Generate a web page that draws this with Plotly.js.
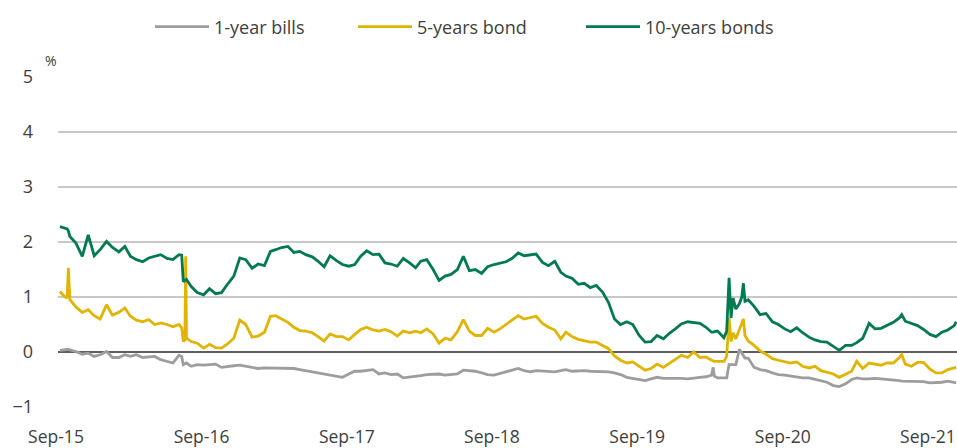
<!DOCTYPE html>
<html>
<head>
<meta charset="utf-8">
<script src="https://cdn.plot.ly/plotly-3.0.1.min.js"></script>
<style>html,body{margin:0;padding:0;background:#fff;}#chart{width:957px;height:448px;}</style>
</head>
<body>
<div id="chart"></div>
<script>
const dates = [
"2015-09-06","2015-09-16","2015-09-24","2015-09-27","2015-10-01","2015-10-16","2015-11-01","2015-11-16","2015-12-01","2015-12-16",
"2016-01-01","2016-01-16","2016-02-01","2016-02-16","2016-03-01","2016-03-16","2016-04-01","2016-04-16","2016-05-01","2016-05-16",
"2016-06-01","2016-06-16","2016-07-01","2016-07-08","2016-07-12","2016-07-16","2016-07-18","2016-07-20","2016-08-01","2016-08-16",
"2016-09-01","2016-09-16","2016-10-01","2016-10-16","2016-11-01","2016-11-16","2016-12-01","2016-12-16","2017-01-01","2017-01-16",
"2017-02-01","2017-02-16","2017-03-01","2017-03-16","2017-04-01","2017-04-16","2017-05-01","2017-05-16","2017-06-01","2017-06-16",
"2017-07-01","2017-07-16","2017-08-01","2017-08-16","2017-09-01","2017-09-16","2017-10-01","2017-10-16","2017-11-01","2017-11-16",
"2017-12-01","2017-12-16","2018-01-01","2018-01-16","2018-02-01","2018-02-16","2018-03-01","2018-03-16","2018-04-01","2018-04-16",
"2018-05-01","2018-05-16","2018-06-01","2018-06-16","2018-07-01","2018-07-16","2018-08-01","2018-08-16","2018-09-01","2018-09-16",
"2018-10-01","2018-10-16","2018-11-01","2018-11-16","2018-12-01","2018-12-16","2019-01-01","2019-01-16","2019-02-01","2019-02-16",
"2019-03-01","2019-03-16","2019-04-01","2019-04-16","2019-05-01","2019-05-16","2019-06-01","2019-06-16","2019-07-01","2019-07-16",
"2019-08-01","2019-08-16","2019-09-01","2019-09-16","2019-10-01","2019-10-16","2019-11-01","2019-11-16","2019-12-01","2019-12-16",
"2020-01-01","2020-01-16","2020-02-01","2020-02-16","2020-03-01","2020-03-05","2020-03-08","2020-03-16","2020-04-01","2020-04-08",
"2020-04-14","2020-04-19","2020-04-24","2020-05-01","2020-05-10","2020-05-16","2020-05-20","2020-05-24","2020-06-01","2020-06-16",
"2020-07-01","2020-07-16","2020-08-01","2020-08-16","2020-09-01","2020-09-16","2020-10-01","2020-10-16","2020-11-01","2020-11-16",
"2020-12-01","2020-12-16","2021-01-01","2021-01-16","2021-02-01","2021-02-16","2021-03-01","2021-03-16","2021-04-01","2021-04-16",
"2021-05-01","2021-05-16","2021-06-01","2021-06-16","2021-06-22","2021-07-01","2021-07-16","2021-08-01","2021-08-16","2021-09-01",
"2021-09-16","2021-10-01","2021-10-16","2021-11-01","2021-11-06"
];

const bonds10y = [
2.28,2.26,2.24,2.20,2.10,1.98,1.74,2.13,1.75,1.86,
2.01,1.90,1.82,1.92,1.74,1.68,1.64,1.71,1.74,1.77,
1.70,1.68,1.77,1.76,1.28,1.30,1.31,1.32,1.19,1.08,
1.04,1.15,1.06,1.08,1.24,1.38,1.71,1.68,1.52,1.60,
1.57,1.83,1.86,1.90,1.92,1.81,1.83,1.77,1.73,1.65,
1.55,1.75,1.66,1.59,1.56,1.59,1.74,1.84,1.77,1.78,
1.62,1.60,1.56,1.70,1.62,1.53,1.65,1.68,1.50,1.30,
1.38,1.41,1.50,1.74,1.48,1.50,1.43,1.55,1.59,1.62,
1.64,1.70,1.80,1.75,1.77,1.78,1.63,1.57,1.65,1.45,
1.38,1.34,1.23,1.25,1.17,1.21,1.09,0.90,0.60,0.50,
0.55,0.50,0.30,0.18,0.19,0.30,0.24,0.34,0.42,0.51,
0.55,0.53,0.52,0.45,0.36,0.36,0.37,0.38,0.26,0.38,
1.35,0.62,0.98,0.78,0.88,1.00,1.25,0.92,0.95,0.83,
0.68,0.70,0.55,0.50,0.42,0.37,0.44,0.35,0.27,0.22,
0.19,0.18,0.10,0.03,0.12,0.12,0.17,0.25,0.52,0.42,
0.43,0.49,0.54,0.62,0.68,0.56,0.52,0.48,0.41,0.32,
0.28,0.36,0.40,0.48,0.55
];

const bond5y = [
1.10,1.02,0.98,1.53,0.95,0.82,0.72,0.77,0.66,0.60,
0.86,0.67,0.72,0.80,0.65,0.58,0.55,0.59,0.50,0.53,
0.50,0.46,0.50,0.44,0.19,0.22,1.74,0.25,0.19,0.16,
0.07,0.14,0.08,0.07,0.15,0.25,0.58,0.50,0.27,0.29,
0.36,0.65,0.66,0.60,0.54,0.45,0.39,0.38,0.35,0.28,
0.20,0.33,0.28,0.28,0.22,0.32,0.41,0.45,0.40,0.38,
0.41,0.37,0.29,0.38,0.35,0.38,0.35,0.42,0.33,0.16,
0.25,0.22,0.37,0.59,0.38,0.30,0.30,0.43,0.36,0.42,
0.50,0.58,0.66,0.60,0.62,0.65,0.52,0.45,0.40,0.24,
0.36,0.28,0.23,0.20,0.18,0.18,0.12,0.06,-0.07,-0.15,
-0.20,-0.18,-0.26,-0.33,-0.30,-0.22,-0.28,-0.21,-0.14,-0.06,
-0.10,0.00,-0.10,-0.09,-0.15,-0.17,-0.17,-0.17,-0.17,-0.08,
0.62,0.19,0.35,0.24,0.40,0.50,0.60,0.30,0.20,0.12,
0.02,-0.04,-0.12,-0.15,-0.17,-0.20,-0.18,-0.26,-0.29,-0.26,
-0.34,-0.37,-0.40,-0.46,-0.40,-0.35,-0.17,-0.30,-0.20,-0.22,
-0.24,-0.20,-0.20,-0.10,-0.05,-0.22,-0.26,-0.19,-0.19,-0.31,
-0.38,-0.38,-0.32,-0.29,-0.28
];

const bills1y = [
0.03,0.04,0.05,0.05,0.04,0.01,-0.04,-0.02,-0.08,-0.05,
0.01,-0.10,-0.10,-0.05,-0.08,-0.05,-0.10,-0.09,-0.08,-0.14,
-0.17,-0.20,-0.06,-0.08,-0.23,-0.22,-0.21,-0.20,-0.26,-0.23,
-0.24,-0.23,-0.22,-0.28,-0.26,-0.25,-0.24,-0.26,-0.27,-0.30,
-0.29,-0.29,-0.29,-0.29,-0.29,-0.30,-0.32,-0.34,-0.35,-0.38,
-0.39,-0.41,-0.44,-0.46,-0.40,-0.35,-0.35,-0.33,-0.32,-0.40,
-0.38,-0.41,-0.40,-0.47,-0.46,-0.44,-0.43,-0.41,-0.40,-0.40,
-0.42,-0.41,-0.40,-0.33,-0.34,-0.35,-0.38,-0.41,-0.42,-0.39,
-0.37,-0.34,-0.30,-0.34,-0.36,-0.34,-0.35,-0.35,-0.36,-0.34,
-0.32,-0.35,-0.34,-0.34,-0.35,-0.35,-0.35,-0.36,-0.38,-0.41,
-0.46,-0.48,-0.50,-0.52,-0.49,-0.46,-0.48,-0.48,-0.47,-0.48,
-0.49,-0.47,-0.46,-0.45,-0.42,-0.28,-0.44,-0.47,-0.47,-0.47,
-0.23,-0.23,-0.23,-0.23,0.05,-0.02,-0.08,-0.11,-0.11,-0.28,
-0.32,-0.34,-0.38,-0.41,-0.42,-0.44,-0.45,-0.47,-0.47,-0.50,
-0.52,-0.55,-0.61,-0.63,-0.58,-0.50,-0.47,-0.49,-0.49,-0.48,
-0.49,-0.50,-0.50,-0.52,-0.53,-0.53,-0.53,-0.53,-0.54,-0.56,
-0.56,-0.55,-0.53,-0.55,-0.56
];

const seriesNames = ["1-year bills", "5-years bond", "10-years bonds"];
const xTickVals = ["2015-09-01","2016-09-01","2017-09-01","2018-09-01","2019-09-01","2020-09-01","2021-09-01"];
const xTickText = ["Sep-15","Sep-16","Sep-17","Sep-18","Sep-19","Sep-20","Sep-21"];
const yTickVals = [-1, 0, 1, 2, 3, 4, 5];

const colors = ["#9d9d9d", "#e0b400", "#007a4e"];
const ys = [bills1y, bond5y, bonds10y];
const legendIds = ["legend", "legend2", "legend3"];

const traces = ys.map((y, i) => ({
  type: "scatter", mode: "lines", x: dates, y: y, name: seriesNames[i],
  line: {color: colors[i], width: 2.8}, legend: legendIds[i], hoverinfo: "x+y+name"
}));

const legendBase = {orientation: "h", xref: "container", yref: "container", xanchor: "left", yanchor: "middle",
  y: 1 - 27/448, itemwidth: 54, font: {size: 18, color: "#404040"}, bgcolor: "rgba(0,0,0,0)"};

const layout = {
  width: 957, height: 448,
  margin: {l: 58, r: 0, t: 77, b: 41},
  paper_bgcolor: "#ffffff", plot_bgcolor: "#ffffff",
  font: {family: "Open Sans, sans-serif", color: "#404040"},
  showlegend: true,
  legend: Object.assign({}, legendBase, {x: 150/957}),
  legend2: Object.assign({}, legendBase, {x: 353/957}),
  legend3: Object.assign({}, legendBase, {x: 581/957}),
  xaxis: {type: "date", range: ["2015-09-01", "2021-11-08"], tickmode: "array", tickvals: xTickVals, ticktext: xTickText,
    showgrid: false, zeroline: false, showline: false, ticks: "", ticklabeloverflow: "allow", ticklabelshift: -2,
    tickfont: {size: 17.5, color: "#404040"}, ticklabelstandoff: 17},
  yaxis: {range: [-1, 5], tickmode: "array", tickvals: yTickVals, showgrid: true, gridcolor: "#c8c8c8", gridwidth: 1.3,
    zeroline: true, zerolinecolor: "#5f5f5f", zerolinewidth: 1.5, showline: false, ticks: "",
    tickfont: {size: 18, color: "#404040"}, ticklabelstandoff: 24},
  annotations: [{text: "%", xref: "paper", yref: "paper", x: -0.008, y: 1.05, showarrow: false,
    font: {size: 14, color: "#404040"}, xanchor: "center", yanchor: "middle"}]
};

Plotly.newPlot("chart", traces, layout, {displayModeBar: false, staticPlot: true});
</script>
</body>
</html>
